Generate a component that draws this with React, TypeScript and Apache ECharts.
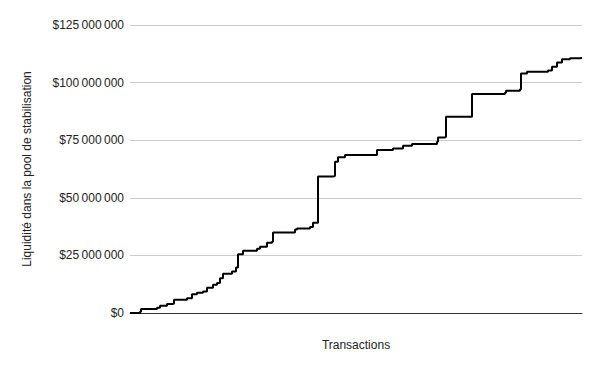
import React, { useEffect, useRef } from "react";
import * as echarts from "echarts";

// Transaction index (x) and liquidity in millions of dollars (y)
const txIndex = [
  0, 10, 11, 27, 30, 37, 43, 44, 57, 62, 67, 73, 77, 83, 87, 90, 93, 102, 106,
  108, 108, 113, 127, 130, 137, 142, 143, 165, 167, 180, 183, 188, 188, 188, 203,
  205, 208, 215, 247, 247, 263, 273, 282, 307, 308, 315, 316, 342, 342, 375, 376,
  390, 391, 397, 418, 422, 427, 432, 440, 450, 452,
];
const liquidityM = [
  0, 0.5, 1.7, 2.3, 3.1, 3.9, 4.2, 5.7, 6.4, 8.1, 8.8, 9.3, 11, 12.3, 13, 15.1,
  17, 18, 19.8, 25.5, 25.5, 27, 27.9, 28.8, 30.5, 30.9, 34.9, 36.2, 36.7, 37.3,
  39.2, 39.3, 50, 59.2, 59.5, 65.7, 67.6, 68.6, 69.3, 70.7, 71.4, 72.6, 73.3,
  74.3, 76.2, 76.5, 85.2, 85.8, 95.1, 95.6, 96.5, 97.1, 104, 104.7, 105.2, 106.9,
  108.7, 110.1, 110.6, 110.7, 110.8,
];
const yTicksM = [0, 25, 50, 75, 100, 125];

const fmt = (v: number) =>
  v === 0 ? "$0" : "$" + String(Math.round(v)).replace(/\B(?=(\d{3})+(?!\d))/g, "\u2009");

export default function App() {
  const ref = useRef<HTMLDivElement>(null);
  useEffect(() => {
    const chart = echarts.init(ref.current!, null, { renderer: "svg" });
    const data = txIndex.map((t, i) => [t, liquidityM[i] * 1e6]);
    chart.setOption({
      animation: false,
      grid: { left: 130, right: 18, top: 25, bottom: 58 },
      xAxis: {
        type: "value",
        min: 0,
        max: 452,
        name: "Transactions",
        nameLocation: "middle",
        nameGap: 26,
        nameTextStyle: { fontFamily: "Liberation Sans, Arial", fontSize: 12, color: "#222" },
        axisLine: { show: true, lineStyle: { color: "#333", width: 1 } },
        axisTick: { show: false },
        axisLabel: { show: false },
        splitLine: { show: false },
      },
      yAxis: {
        type: "value",
        min: 0,
        max: yTicksM[yTicksM.length - 1] * 1e6,
        interval: 25e6,
        name: "Liquidité dans la pool de stabilisation",
        nameLocation: "middle",
        nameGap: 97,
        nameTextStyle: { fontFamily: "Liberation Sans, Arial", fontSize: 12, color: "#222" },
        axisLine: { show: false },
        axisTick: { show: false },
        axisLabel: {
          formatter: fmt,
          fontFamily: "Liberation Sans, Arial",
          fontSize: 12,
          color: "#222",
          margin: 6,
        },
        splitLine: { lineStyle: { color: "#ccc", width: 1 } },
      },
      series: [
        {
          type: "line",
          data,
          step: "end",
          showSymbol: false,
          lineStyle: { color: "#000", width: 2 },
          itemStyle: { color: "#000" },
        },
      ],
    });
    return () => chart.dispose();
  }, []);
  return <div ref={ref} style={{ width: 600, height: 371, margin: -8 }} />;
}
